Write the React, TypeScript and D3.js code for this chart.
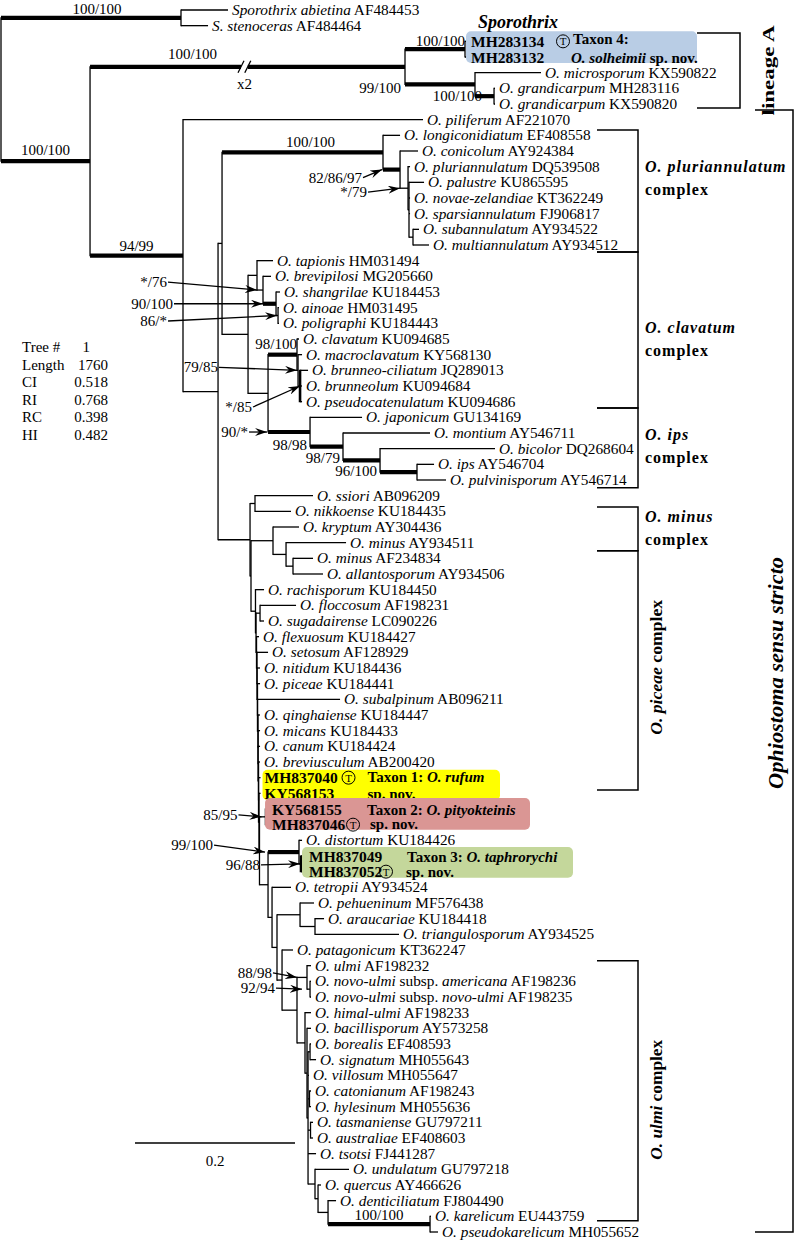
import React from "react";
import * as d3 from "d3";

// ---------------- DATA ----------------
// leaves in drawing order: [name, accession, parent node, distance from root]
const leafRows: [string, string, string, number][] = [
  ["Sporothrix abietina", "AF484453", "S", 0.2838],
  ["S. stenoceras", "AF484464", "S", 0.2588],
  ["", "MH283134", "T4", 0.5825],
  ["", "MH283132", "T4", 0.5825],
  ["O. microsporum", "KX590822", "B", 0.675],
  ["O. grandicarpum", "MH283116", "Gr", 0.6175],
  ["O. grandicarpum", "KX590820", "Gr", 0.6175],
  ["O. piliferum", "AF221070", "D", 0.5275],
  ["O. longiconidiatum", "EF408558", "P", 0.4988],
  ["O. conicolum", "AY924384", "P2", 0.5213],
  ["O. pluriannulatum", "DQ539508", "P3", 0.5113],
  ["O. palustre", "KU865595", "P3b", 0.5288],
  ["O. novae-zelandiae", "KT362249", "P3b", 0.5113],
  ["O. sparsiannulatum", "FJ906817", "P3b", 0.5113],
  ["O. subannulatum", "AY934522", "P4", 0.5225],
  ["O. multiannulatum", "AY934512", "P4", 0.535],
  ["O. tapionis", "HM031494", "H", 0.34],
  ["O. brevipilosi", "MG205660", "H2", 0.3375],
  ["O. shangrilae", "KU184453", "H3", 0.3488],
  ["O. ainoae", "HM031495", "H4", 0.3475],
  ["O. poligraphi", "KU184443", "H4", 0.3475],
  ["O. clavatum", "KU094685", "K", 0.3725],
  ["O. macroclavatum", "KY568130", "K2", 0.3763],
  ["O. brunneo-ciliatum", "JQ289013", "K3", 0.3838],
  ["O. brunneolum", "KU094684", "K3", 0.3763],
  ["O. pseudocatenulatum", "KU094686", "K3", 0.3763],
  ["O. japonicum", "GU134169", "J", 0.4513],
  ["O. montium", "AY546711", "J2", 0.5363],
  ["O. bicolor", "DQ268604", "J3", 0.6175],
  ["O. ips", "AY546704", "J4", 0.5413],
  ["O. pulvinisporum", "AY546714", "J4", 0.5563],
  ["O. ssiori", "AB096209", "L1", 0.39],
  ["O. nikkoense", "KU184435", "L1", 0.3625],
  ["O. kryptum", "AY304436", "M", 0.3725],
  ["O. minus", "AY934511", "M2", 0.4313],
  ["O. minus", "AF234834", "M3", 0.39],
  ["O. allantosporum", "AY934506", "M3", 0.4025],
  ["O. rachisporum", "KU184450", "Pa1", 0.3288],
  ["O. floccosum", "AF198231", "FS", 0.3688],
  ["O. sugadairense", "LC090226", "FS", 0.3288],
  ["O. flexuosum", "KU184427", "Pa3", 0.3225],
  ["O. setosum", "AF128929", "Pa4", 0.3338],
  ["O. nitidum", "KU184436", "Pa5", 0.3238],
  ["O. piceae", "KU184441", "Pa6", 0.3238],
  ["O. subalpinum", "AB096211", "Pa7", 0.4238],
  ["O. qinghaiense", "KU184447", "Pa8", 0.3238],
  ["O. micans", "KU184433", "Pa9", 0.3238],
  ["O. canum", "KU184424", "Pa10", 0.3238],
  ["O. breviusculum", "AB200420", "Pa11", 0.3238],
  ["", "MH837040", "Pa12", 0.3244],
  ["", "KY568153", "Pa13", 0.3244],
  ["", "KY568155", "T2", 0.3338],
  ["", "MH837046", "T2", 0.3338],
  ["O. distortum", "KU184426", "Q", 0.3763],
  ["", "MH837049", "T3", 0.38],
  ["", "MH837052", "T3", 0.38],
  ["O. tetropii", "AY934524", "N4", 0.3625],
  ["O. pehueninum", "MF576438", "R", 0.3913],
  ["O. araucariae", "KU184418", "Ra", 0.4038],
  ["O. triangulosporum", "AY934525", "Ra", 0.4975],
  ["O. patagonicum", "KT362247", "N6", 0.365],
  ["O. ulmi", "AF198232", "UL", 0.3875],
  ["O. novo-ulmi subsp. americana", "AF198236", "NU", 0.3875],
  ["O. novo-ulmi subsp. novo-ulmi", "AF198235", "NU", 0.3875],
  ["O. himal-ulmi", "AF198233", "U2", 0.3875],
  ["O. bacillisporum", "AY573258", "U3", 0.3875],
  ["O. borealis", "EF408593", "BS", 0.3875],
  ["O. signatum", "MH055643", "BS", 0.3938],
  ["O. villosum", "MH055647", "U4", 0.385],
  ["O. catonianum", "AF198243", "CH", 0.3875],
  ["O. hylesinum", "MH055636", "CH", 0.3875],
  ["O. tasmaniense", "GU797211", "TA", 0.39],
  ["O. australiae", "EF408603", "TA", 0.39],
  ["O. tsotsi", "FJ441287", "U4", 0.3938],
  ["O. undulatum", "GU797218", "U5", 0.435],
  ["O. quercus", "AY466626", "U6", 0.4],
  ["O. denticiliatum", "FJ804490", "U7", 0.4188],
  ["O. karelicum", "EU443759", "KR", 0.5375],
  ["O. pseudokarelicum", "MH055652", "KR", 0.5463],
];

// internal nodes: [id, parent, distance from root]
const innerNodes: [string, string, number][] = [
  ["root", "", 0],
  ["S", "root", 0.225],
  ["C", "root", 0.1113],
  ["A", "C", 0.505],
  ["T4", "A", 0.58],
  ["B", "A", 0.5925],
  ["Gr", "B", 0.6163],
  ["D", "C", 0.2275],
  ["E", "D", 0.2713],
  ["F", "E", 0.2763],
  ["P", "F", 0.4775],
  ["P2", "P", 0.4988],
  ["P3", "P2", 0.5088],
  ["P3b", "P3", 0.51],
  ["P4", "P3b", 0.515],
  ["G", "F", 0.3088],
  ["H", "G", 0.32],
  ["H2", "H", 0.3275],
  ["H3", "H2", 0.3438],
  ["H4", "H3", 0.3463],
  ["I", "G", 0.3338],
  ["K", "I", 0.37],
  ["K2", "K", 0.3713],
  ["K3", "K2", 0.3738],
  ["J", "I", 0.3863],
  ["J2", "J", 0.4275],
  ["J3", "J2", 0.4738],
  ["J4", "J3", 0.52],
  ["L", "E", 0.3113],
  ["L1", "L", 0.3175],
  ["L2", "L", 0.3125],
  ["M", "L2", 0.34],
  ["M2", "M", 0.3563],
  ["M3", "M2", 0.365],
  ["Pa1", "L2", 0.3181],
  ["Pa2", "Pa1", 0.3188],
  ["FS", "Pa2", 0.3238],
  ["Pa3", "Pa2", 0.3194],
  ["Pa4", "Pa3", 0.32],
  ["Pa5", "Pa4", 0.32],
  ["Pa6", "Pa5", 0.3206],
  ["Pa7", "Pa6", 0.3206],
  ["Pa8", "Pa7", 0.3213],
  ["Pa9", "Pa8", 0.3213],
  ["Pa10", "Pa9", 0.3213],
  ["Pa11", "Pa10", 0.3219],
  ["Pa12", "Pa11", 0.3219],
  ["Pa13", "Pa12", 0.3225],
  ["Pa14", "Pa13", 0.3231],
  ["T2", "Pa14", 0.3313],
  ["N3", "Pa14", 0.3338],
  ["Q", "N3", 0.3725],
  ["T3", "Q", 0.375],
  ["N4", "N3", 0.3388],
  ["N5", "N4", 0.345],
  ["R", "N5", 0.3738],
  ["Ra", "R", 0.3925],
  ["N6", "N5", 0.3513],
  ["U", "N6", 0.37],
  ["UL", "U", 0.3825],
  ["NU", "UL", 0.3863],
  ["U2", "U", 0.38],
  ["U3", "U2", 0.3825],
  ["U4", "U3", 0.3838],
  ["BS", "U4", 0.3863],
  ["CH", "U4", 0.3856],
  ["TA", "U4", 0.3869],
  ["U5", "U4", 0.3925],
  ["U6", "U5", 0.3963],
  ["U7", "U6", 0.4088],
  ["KR", "U7", 0.5363],
];

const thickBranches = ["S", "C", "A", "T4", "B", "Gr", "D", "P", "P2", "H3", "K", "J", "J2", "J3", "J4", "Q", "KR"];
const thickVerticals = ["T2", "T3", "K3"];
const brokenBranch: [string, number, number] = ["A", 0.3, 0.3085]; // drawn at half length ("x2")

const supportPlain: [string, string][] = [
  ["100/100", "S"], ["100/100", "C"], ["100/100", "A"], ["99/100", "B"], ["100/100", "T4"],
  ["100/100", "Gr"], ["94/99", "D"], ["100/100", "P"], ["98/100", "K"], ["98/98", "J2"],
  ["98/79", "J3"], ["96/100", "J4"], ["100/100", "KR"],
];
const supportArrows: [string, string][] = [
  ["82/86/97", "P2"], ["*/79", "P3"], ["*/76", "H2"], ["90/100", "H3"], ["86/*", "H4"],
  ["79/85", "K2"], ["*/85", "K3"], ["90/*", "J"], ["85/95", "T2"], ["99/100", "Q"],
  ["96/88", "T3"], ["88/98", "UL"], ["92/94", "NU"],
];

// new taxa: [taxon label, species, first id, second id, index of type (0/1)]
const newTaxa: [string, string, string, string, number][] = [
  ["Taxon 4:", "O. solheimii", "MH283134", "MH283132", 0],
  ["Taxon 1:", "O. rufum", "MH837040", "KY568153", 0],
  ["Taxon 2:", "O. pityokteinis", "KY568155", "MH837046", 1],
  ["Taxon 3:", "O. taphrorychi", "MH837049", "MH837052", 1],
];

// clade brackets: [italic part, plain part, from row, to row]
const cladeBrackets: [string, string, number, number][] = [
  ["", "lineage A", 1.47, 6.25],
  ["Ophiostoma sensu stricto", "", 6.38, 78.0],
  ["O. pluriannulatum", "complex", 7.66, 15.44],
  ["O. clavatum", "complex", 15.44, 25.4],
  ["O. ips", "complex", 25.4, 30.5],
  ["O. minus", "complex", 31.72, 34.52],
  ["O. piceae", "complex", 34.52, 49.78],
  ["O. ulmi", "complex", 60.69, 77.28],
];

const statsLabels = ["Tree #", "Length", "CI", "RI", "RC", "HI"];
const statsValues = ["1", "1760", "0.518", "0.768", "0.398", "0.482"];
const scaleBar: [number, number, string] = [0.1675, 0.2, "0.2"];

// ---------------- LAYOUT (styles / offsets) ----------------
const FONT = "'Liberation Serif', 'Times New Roman', Times, serif";
const W = 797, H = 1241;
const LEAF_FS = 15.3;
const plainLayout: Record<string, { mode: string; dx: number; dy: number }> = {
  S: { mode: "mid", dx: 6, dy: -4 },
  C: { mode: "mid", dx: 0, dy: -6 },
  A: { mode: "mid", dx: -55, dy: -8 },
  B: { mode: "endParent", dx: -4, dy: 9 },
  T4: { mode: "endNode", dx: 0, dy: -3 },
  Gr: { mode: "endNode", dx: -12, dy: 5 },
  D: { mode: "mid", dx: 0, dy: -5 },
  P: { mode: "mid", dx: 8, dy: -5 },
  K: { mode: "endNode", dx: 0, dy: -6 },
  J2: { mode: "endParent", dx: -3, dy: 3 },
  J3: { mode: "endParent", dx: -3, dy: 3 },
  J4: { mode: "endParent", dx: -3, dy: 4 },
  KR: { mode: "mid", dx: 0, dy: -4 },
};
const arrowLayout: Record<string, [number, number, number, number]> = {
  // tip dx from parent x, tip dy from node y, label end dx, label center dy
  P2: [-1, 0, -20, 8],
  P3: [0, 0, -33, 4],
  H2: [0, 0, -90, -8],
  H3: [0, 0, -90, 0],
  H4: [1, 0, -110, 5.5],
  K2: [0, 0, -79, -3],
  K3: [2, 0, -48, 21],
  J: [-1, 0, -19, 0],
  T2: [2, 0, -24, -2],
  Q: [-3, 0, -52, -7],
  T3: [1, 0, -40, 1],
  UL: [0, 0, -25, -4.5],
  NU: [-5, 0, -27, -1],
};
const taxonStyle = [
  { fill: "#b9cde5", padL: 5, right: 697, padT: 10, padB: 6, circ: 92, lab: 102, labDy: -3, sp: 100, spDy: 0, spSecond: true },
  { fill: "#ffff00", padL: 2, right: 500, padT: 8, padB: 7, circ: 84, lab: 103, labDy: -1, sp: 103, spDy: 0.5, spSecond: false },
  { fill: "#da9694", padL: 7, right: 530, padT: 11, padB: 5, circ: 81, lab: 95, labDy: 0, sp: 98, spDy: -0.5, spSecond: false },
  { fill: "#c4d79b", padL: 7, right: 573, padT: 9, padB: 6, circ: 77, lab: 98, labDy: 0, sp: 97, spDy: 0.5, spSecond: false },
];
const bracketStyle = [
  { x0: 697, x1: 740, lx: 774, rot: true, size: 16, len: 90, dy: 0 },
  { x0: 755, x1: 793, lx: 783, rot: true, size: 21, len: 232, dy: 2 },
  { x0: 597, x1: 638, lx: 645, rot: false, size: 16, len: 0, dy: -19 },
  { x0: 597, x1: 638, lx: 645, rot: false, size: 16, len: 0, dy: 3 },
  { x0: 597, x1: 638, lx: 645, rot: false, size: 16, len: 0, dy: -8 },
  { x0: 597, x1: 638, lx: 645, rot: false, size: 16, len: 0, dy: -7 },
  { x0: 597, x1: 638, lx: 662, rot: true, size: 17, len: 135, dy: -3 },
  { x0: 597, x1: 638, lx: 662, rot: true, size: 17, len: 120, dy: 9 },
];

type Row = { id: string; parent: string | null; depth: number; leaf: number; name: string; acc: string };

function NameSpans({ name }: { name: string }) {
  const parts = name.split(" subsp. ");
  if (parts.length === 2)
    return (
      <>
        <tspan fontStyle="italic">{parts[0]}</tspan>
        <tspan>{" subsp. "}</tspan>
        <tspan fontStyle="italic">{parts[1]}</tspan>
      </>
    );
  return <tspan fontStyle="italic">{name}</tspan>;
}

function CircT({ x, y }: { x: number; y: number }) {
  return (
    <g>
      <circle cx={x} cy={y} r={6.5} fill="none" stroke="#000" strokeWidth={1} />
      <text x={x} y={y + 4} fontSize={11} textAnchor="middle" fontFamily={FONT}>T</text>
    </g>
  );
}

export default function App() {
  const xScale = d3.scaleLinear().domain([0, 1]).range([1, 801]);
  const yScale = d3.scaleLinear().domain([0, leafRows.length - 1]).range([10, 1232]);

  const rows: Row[] = [
    ...innerNodes.map(([id, parent, depth]) => ({ id, parent: parent || null, depth, leaf: -1, name: "", acc: "" })),
    ...leafRows.map(([name, acc, parent, depth], i) => ({ id: acc, parent, depth, leaf: i, name, acc })),
  ];
  const root = d3.stratify<Row>().id((d) => d.id).parentId((d) => d.parent)(rows);
  const pos = new Map<string, { x: number; y: number; px: number; y0: number; y1: number }>();
  root.eachAfter((n) => {
    let y: number, y0 = 0, y1 = 0;
    if (n.children) {
      y0 = d3.min(n.children, (c) => pos.get(c.id!)!.y)!;
      y1 = d3.max(n.children, (c) => pos.get(c.id!)!.y)!;
      y = (y0 + y1) / 2;
    } else y = yScale(n.data.leaf);
    pos.set(n.id!, { x: xScale(n.data.depth), y, px: n.parent ? xScale(n.parent.data.depth) : xScale(0), y0, y1 });
  });
  const nodes = root.descendants();
  const thick = new Set(thickBranches);
  const thickV = new Set(thickVerticals);

  const branchEls: React.ReactNode[] = [];
  nodes.forEach((n) => {
    const p = pos.get(n.id!)!;
    if (n.parent) {
      const t = thick.has(n.id!);
      branchEls.push(
        <line key={"h" + n.id} x1={p.px} x2={p.x} y1={p.y} y2={p.y} stroke="#000" strokeWidth={t ? 4.2 : 1.3} strokeLinecap="butt" />
      );
    }
    if (n.children) {
      branchEls.push(
        <line key={"v" + n.id} x1={p.x} x2={p.x} y1={p.y0 - 0.6} y2={p.y1 + 0.6} stroke="#000" strokeWidth={thickV.has(n.id!) ? 2.6 : 1.3} />
      );
    }
  });

  // break on the lineage A branch
  const bp = pos.get(brokenBranch[0])!;
  const bx0 = xScale(brokenBranch[1]);
  const bx1 = xScale(brokenBranch[2]);

  const boxLeafIds = new Set(newTaxa.flatMap((t) => [t[2], t[3]]));

  return (
    <svg width={W} height={H} style={{ position: "absolute", left: 0, top: 0, background: "#fff" }} fontFamily={FONT}>
      <defs>
        <marker id="ah" viewBox="0 0 12 8" refX="12" refY="4" markerWidth="12" markerHeight="8" markerUnits="userSpaceOnUse" orient="auto">
          <path d="M0,0 L12,4 L0,8 L4,4 z" fill="#000" />
        </marker>
      </defs>
      <rect width={W} height={H} fill="#fff" />
      {branchEls}
      <rect x={bx0} y={bp.y - 6} width={bx1 - bx0} height={12} fill="#fff" />
      <line x1={bx0 - 3} y1={bp.y + 6} x2={bx0 + 3} y2={bp.y - 6} stroke="#000" strokeWidth={1.3} />
      <line x1={bx1 - 3} y1={bp.y + 6} x2={bx1 + 3} y2={bp.y - 6} stroke="#000" strokeWidth={1.3} />
      <text x={(bx0 + bx1) / 2} y={bp.y + 22} fontSize={15} textAnchor="middle">x2</text>

      {/* new taxa boxes */}
      {newTaxa.map(([lab, sp, id1, id2, typeIdx], i) => {
        const st = taxonStyle[i];
        const a = pos.get(id1)!;
        const b = pos.get(id2)!;
        const tx = a.x + 4;
        const ty = typeIdx === 0 ? a.y : b.y;
        return (
          <g key={"tx" + i}>
            <rect x={tx - st.padL} y={a.y - st.padT} width={st.right - tx + st.padL} height={b.y - a.y + st.padT + st.padB} rx={5} fill={st.fill} />
            <text x={tx} y={a.y + 5.5} fontSize={15.5} fontWeight="bold">{id1}</text>
            <text x={tx} y={b.y + 5.5} fontSize={15.5} fontWeight="bold">{id2}</text>
            <CircT x={tx + st.circ} y={ty} />
            {st.spSecond ? (
              <>
                <text x={tx + st.lab} y={a.y + 5.5 + st.labDy} fontSize={15} fontWeight="bold">{lab}</text>
                <text x={tx + st.sp} y={b.y + 5.5 + st.spDy} fontSize={15} fontWeight="bold">
                  <tspan fontStyle="italic">{sp}</tspan>
                  <tspan>{" sp. nov."}</tspan>
                </text>
              </>
            ) : (
              <>
                <text x={tx + st.lab} y={a.y + 5.5 + st.labDy} fontSize={15} fontWeight="bold">
                  <tspan>{lab + " "}</tspan>
                  <tspan fontStyle="italic">{sp}</tspan>
                </text>
                <text x={tx + st.sp} y={b.y + 5 + st.spDy} fontSize={15} fontWeight="bold">sp. nov.</text>
              </>
            )}
          </g>
        );
      })}

      {/* leaf labels */}
      {leafRows.map(([name, acc]) => {
        if (boxLeafIds.has(acc)) return null;
        const p = pos.get(acc)!;
        return (
          <text key={"l" + acc} x={p.x + 4} y={p.y + 5} fontSize={LEAF_FS}>
            <NameSpans name={name} />
            <tspan>{" " + acc}</tspan>
          </text>
        );
      })}

      <text x={478} y={28} fontSize={18} fontWeight="bold" fontStyle="italic">Sporothrix</text>

      {/* support values */}
      {supportPlain.map(([t, id], i) => {
        const p = pos.get(id)!;
        const L = plainLayout[id];
        let x = p.x, anchor = "end";
        if (L.mode === "mid") { x = (p.px + p.x) / 2 + L.dx; anchor = "middle"; }
        else if (L.mode === "endParent") x = p.px + L.dx;
        else x = p.x + L.dx;
        return (
          <text key={"s" + i} x={x} y={p.y + L.dy} fontSize={15} textAnchor={anchor}>{t}</text>
        );
      })}
      {supportArrows.map(([t, id], i) => {
        const p = pos.get(id)!;
        const [tdx, tdy, ldx, ldy] = arrowLayout[id];
        const tipX = p.px + tdx, tipY = p.y + tdy;
        const lx = tipX + ldx, ly = tipY + ldy;
        return (
          <g key={"a" + i}>
            <text x={lx} y={ly + 5} fontSize={15} textAnchor="end">{t}</text>
            <line x1={lx + 1} y1={ly} x2={tipX} y2={tipY} stroke="#000" strokeWidth={1.3} markerEnd="url(#ah)" />
          </g>
        );
      })}

      {/* clade brackets */}
      {cladeBrackets.map(([it, pl, r0, r1], i) => {
        const st = bracketStyle[i];
        const y0 = yScale(r0), y1 = yScale(r1);
        const mid = (y0 + y1) / 2 + st.dy;
        return (
          <g key={"b" + i}>
            <path d={`M${st.x0},${y0}H${st.x1}V${y1}H${st.x0}`} fill="none" stroke="#000" strokeWidth={1.5} />
            {st.rot ? (
              <text
                transform={`translate(${st.lx},${mid}) rotate(-90)`}
                fontSize={st.size}
                fontWeight="bold"
                textAnchor="middle"
                textLength={st.len}
                lengthAdjust="spacingAndGlyphs"
              >
                {it && <tspan fontStyle="italic">{it}</tspan>}
                {pl && <tspan>{(it ? " " : "") + pl}</tspan>}
              </text>
            ) : (
              <>
                <text x={st.lx} y={mid} fontSize={st.size} fontWeight="bold" fontStyle="italic" letterSpacing={1}>{it}</text>
                <text x={st.lx} y={mid + 23} fontSize={st.size} fontWeight="bold" letterSpacing={1}>{pl}</text>
              </>
            )}
          </g>
        );
      })}

      {/* tree statistics */}
      {statsLabels.map((s, i) => (
        <g key={"st" + i}>
          <text x={22} y={352 + i * 17.6} fontSize={15}>{s}</text>
          <text x={i === 0 ? 90 : 108} y={352 + i * 17.6} fontSize={15} textAnchor="end">{statsValues[i]}</text>
        </g>
      ))}

      {/* scale bar */}
      <line x1={xScale(scaleBar[0])} x2={xScale(scaleBar[0] + scaleBar[1])} y1={1143} y2={1143} stroke="#000" strokeWidth={1.3} />
      <text x={(xScale(scaleBar[0]) + xScale(scaleBar[0] + scaleBar[1])) / 2} y={1166} fontSize={15} textAnchor="middle">{scaleBar[2]}</text>
    </svg>
  );
}
